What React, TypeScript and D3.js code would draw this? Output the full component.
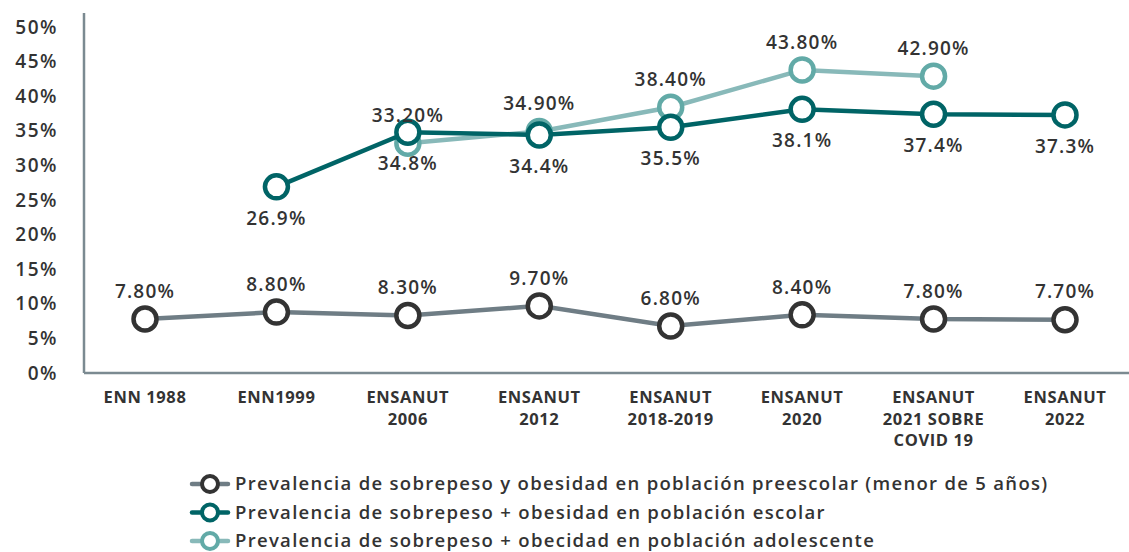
import * as d3 from "d3";

const WIDTH = 1129;
const HEIGHT = 552;
const FONT = "'Open Sans', sans-serif";

const categories = [
  "ENN 1988",
  "ENN1999",
  "ENSANUT|2006",
  "ENSANUT|2012",
  "ENSANUT|2018-2019",
  "ENSANUT|2020",
  "ENSANUT|2021 SOBRE|COVID 19",
  "ENSANUT|2022",
];

const preescolar = [7.8, 8.8, 8.3, 9.7, 6.8, 8.4, 7.8, 7.7];
const escolar = [null, 26.9, 34.8, 34.4, 35.5, 38.1, 37.4, 37.3];
const adolescente = [null, null, 33.2, 34.9, 38.4, 43.8, 42.9, null];

const yTicks = [0, 5, 10, 15, 20, 25, 30, 35, 40, 45, 50];

const legendLabels = [
  "Prevalencia de sobrepeso y obesidad en población preescolar (menor de 5 años)",
  "Prevalencia de sobrepeso + obesidad en población escolar",
  "Prevalencia de sobrepeso + obecidad en población adolescente",
];

type Series = {
  values: (number | null)[];
  line: string;
  dot: string;
  digits: number;
  labelDy: number;
};

// drawn in this order: adolescent under escolar
const series: Series[] = [
  { values: preescolar, line: "#6f7d85", dot: "#333333", digits: 2, labelDy: -28 },
  { values: adolescente, line: "#88b9b9", dot: "#62aaa7", digits: 2, labelDy: -28 },
  { values: escolar, line: "#006466", dot: "#006466", digits: 1, labelDy: 31 },
];
const legendOrder = [0, 2, 1];

const AXIS_X = 84;
const x = d3.scalePoint<string>().domain(categories).range([145, 1065]);
const y = d3.scaleLinear().domain([0, 50]).range([373, 27]);

export default function App() {
  const line = d3
    .line<number | null>()
    .defined((d) => d != null)
    .x((_, i) => x(categories[i])!)
    .y((d) => y(d as number));

  return (
    <>
      <style>{`body{margin:0}`}</style>
      <svg width={WIDTH} height={HEIGHT} style={{ display: "block", background: "#fff" }} fontFamily={FONT}>
        {/* y ticks */}
        {yTicks.map((t) => (
          <text key={t} x={58} y={y(t)} dy="0.35em" textAnchor="end" fontSize={19} fontWeight={600} fill="#333" letterSpacing={1.5}>
            {t}%
          </text>
        ))}

        {/* axes */}
        <line x1={AXIS_X} x2={AXIS_X} y1={13} y2={y(0)} stroke="#7b8a91" strokeWidth={2.5} />
        <line x1={AXIS_X} x2={WIDTH} y1={y(0)} y2={y(0)} stroke="#7b8a91" strokeWidth={2.5} />

        {/* x labels */}
        {categories.map((c) => (
          <text key={c} x={x(c)} y={403} textAnchor="middle" fontSize={16.5} fontWeight={700} fill="#333" letterSpacing={0.6}>
            {c.split("|").map((part, j) => (
              <tspan key={j} x={x(c)} dy={j === 0 ? 0 : 21.5}>
                {part}
              </tspan>
            ))}
          </text>
        ))}

        {/* series */}
        {series.map((s, si) => (
          <g key={si}>
            <path d={line(s.values) ?? ""} fill="none" stroke={s.line} strokeWidth={4.5} />
            {s.values.map((v, i) =>
              v == null ? null : (
                <circle key={i} cx={x(categories[i])} cy={y(v)} r={11.5} fill="#fff" stroke={s.dot} strokeWidth={4.5} />
              )
            )}
          </g>
        ))}

        {/* value labels */}
        {series.map((s, si) =>
          s.values.map((v, i) =>
            v == null ? null : (
              <text
                key={`${si}-${i}`}
                x={x(categories[i])}
                y={y(v) + s.labelDy}
                dy="0.35em"
                textAnchor="middle"
                fontSize={19}
                fontWeight={600}
                fill="#333"
                letterSpacing={1.2}
              >
                {v.toFixed(s.digits)}%
              </text>
            )
          )
        )}

        {/* legend */}
        {legendOrder.map((si, row) => {
          const s = series[si];
          const cy = 484 + row * 28.5;
          return (
            <g key={si} transform={`translate(0,${cy})`}>
              <line x1={192} x2={228} y1={0} y2={0} stroke={s.line} strokeWidth={4.5} strokeLinecap="round" />
              <circle cx={210} cy={0} r={8} fill="#fff" stroke={s.dot} strokeWidth={4} />
              <text x={235} y={0} dy="0.35em" fontSize={18.5} fontWeight={600} fill="#333" letterSpacing={1.3}>
                {legendLabels[row]}
              </text>
            </g>
          );
        })}
      </svg>
    </>
  );
}
